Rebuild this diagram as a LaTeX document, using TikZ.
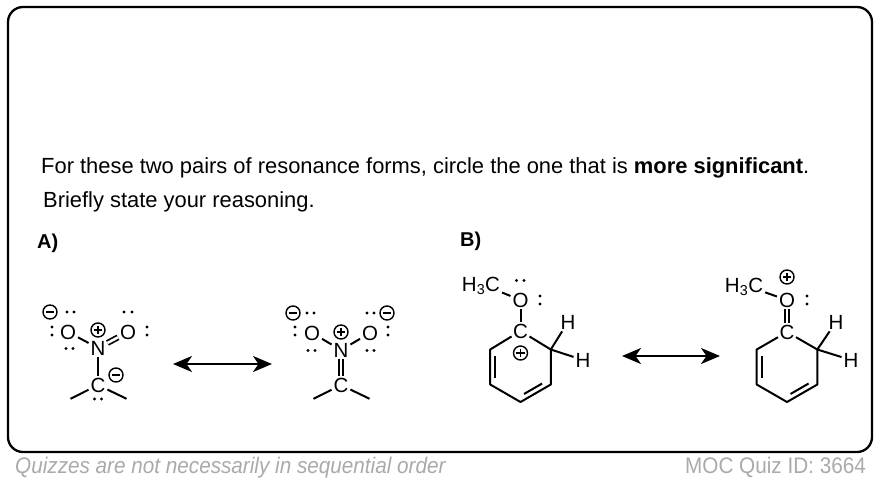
\documentclass[tikz,border=0pt]{standalone}
\usepackage{fontspec}
\setmainfont{Liberation Sans}
\usetikzlibrary{arrows.meta,calc}
\definecolor{footgray}{RGB}{170,170,170}
\newcommand{\chemfont}{\fontsize{20.5}{24}\selectfont}
\newcommand{\qfont}{\fontsize{21.9}{26}\selectfont}
\newcommand{\lblfont}{\fontsize{20}{24}\selectfont\bfseries}
\newcommand{\footfont}{\fontsize{22.5}{26}\selectfont\addfontfeatures{FakeStretch=0.92}}
\begin{document}
\begin{tikzpicture}[x=1pt,y=-1pt,
  frame/.style={draw=black, line width=2.3pt, rounded corners=15pt},
  qtext/.style={anchor=base west, inner sep=0pt, font=\qfont},
  atom/.style={font=\chemfont, inner sep=1.4pt, text height=14.7pt, text depth=0pt},
  bond/.style={line width=2pt, shorten <=0.5pt, shorten >=0.5pt},
  dbond/.style={line width=1.7pt, double, double distance=2.6pt, shorten <=0.5pt, shorten >=0.5pt},
  ring/.style={line width=2pt, line join=round},
  resarrow/.style={line width=2.3pt, {Stealth[length=19pt,width=16pt,inset=5.5pt]}-{Stealth[length=19pt,width=16pt,inset=5.5pt]}},
  foot/.style={inner sep=0pt, text=footgray},
  plusc/.pic={\draw[line width=1.4pt] (0,0) circle[radius=7];
              \draw[line width=1.5pt] (-4.2,0)--(4.2,0) (0,-4.2)--(0,4.2);},
  minusc/.pic={\draw[line width=1.4pt] (0,0) circle[radius=7];
               \draw[line width=1.5pt] (-4.2,0)--(4.2,0);},
]
\useasboundingbox (0,0) rectangle (880,482);
\fill[white] (0,0) rectangle (880,482);
\draw[frame] (8,7) rectangle (872,452);

% question text
\node[qtext] (q1) at (41,173) {For these two pairs of resonance forms, circle the one that is \textbf{more significant}.};
\node[qtext] (q2) at (43,207) {Briefly state your reasoning.};
\node[anchor=base west, inner sep=0pt, font=\lblfont] (la) at (37,248) {A)};
\node[anchor=base west, inner sep=0pt, font=\lblfont] (lb) at (460,246) {B)};

% footer
\node[foot, anchor=base west, font=\footfont\itshape] (f1) at (15,473) {Quizzes are not necessarily in sequential order};
\node[foot, anchor=base east, font=\footfont] (f2) at (866,473) {MOC Quiz ID: 3664};

% ---------- A1 ----------
\node[atom] (a1OL) at (68,332) {O};
\node[atom] (a1N) at (98,348) {N};
\node[atom] (a1OR) at (128,332) {O};
\node[atom] (a1C) at (98,385) {C};
\coordinate (a1mL) at (70,399);
\coordinate (a1mR) at (127,399);
\draw[bond] (a1OL) -- (a1N);
\draw[dbond] (a1N) -- (a1OR);
\draw[bond] (a1N) -- (a1C);
\draw[bond] (a1C) -- (a1mL);
\draw[bond] (a1C) -- (a1mR);
\pic at (98,330) {plusc};
\pic at (50,312) {minusc};
\pic at (116,375) {minusc};
\foreach \p in {(67,312),(74,312),(52,327),(52,335),(66,348.5),(73,348.5),(124,312),(132,312),(147,327),(147,335),(94.5,399),(101.5,399)}
  \fill \p circle[radius=1.7];

% ---------- A2 ----------
\node[atom] (a2OL) at (312,333) {O};
\node[atom] (a2N) at (341,350) {N};
\node[atom] (a2OR) at (370,333) {O};
\node[atom] (a2C) at (341,385) {C};
\coordinate (a2mL) at (313,399);
\coordinate (a2mR) at (370,399);
\draw[bond] (a2OL) -- (a2N);
\draw[bond] (a2N) -- (a2OR);
\draw[dbond] (a2N) -- (a2C);
\draw[bond] (a2C) -- (a2mL);
\draw[bond] (a2C) -- (a2mR);
\pic at (341,332) {plusc};
\pic at (293,313) {minusc};
\pic at (387,313) {minusc};
\foreach \p in {(307,313),(314,313),(295,327),(295,335),(308,350.5),(315,350.5),(367,313),(374,313),(388,327),(388,335),(367,350.5),(374,350.5)}
  \fill \p circle[radius=1.7];

% resonance arrows
\coordinate (arA1) at (173,364);
\coordinate (arA2) at (272,364);
\draw[resarrow] (arA1) -- (arA2);
\coordinate (arB1) at (622,356);
\coordinate (arB2) at (720,356);
\draw[resarrow] (arB1) -- (arB2);

% ---------- B1 ----------
\node[atom] (b1H3C) at (481,284) {H\textsubscript{3}C};
\node[atom] (b1O) at (520.5,300) {O};
\node[atom] (b1C) at (520.5,331) {C};
\node[atom] (b1Hu) at (568,322) {H};
\node[atom] (b1Hd) at (583,360) {H};
\coordinate (b1UR) at (550.8,349.5);
\coordinate (b1LR) at (550.8,384.5);
\coordinate (b1B)  at (520.5,402);
\coordinate (b1LL) at (490.2,384.5);
\coordinate (b1UL) at (490.2,349.5);
\coordinate (b1iLR) at (545.6,381.5);
\coordinate (b1iB)  at (520.5,396);
\coordinate (b1iLL) at (495.4,381.5);
\coordinate (b1iUL) at (495.4,352.5);
\draw[bond] (b1H3C) -- (b1O);
\draw[bond] (b1O) -- (b1C);
\draw[ring] (b1C) -- (b1UR) -- (b1LR) -- (b1B) -- (b1LL) -- (b1UL) -- (b1C);
\draw[ring] ($(b1iLR)!0.14!(b1iB)$) -- ($(b1iLR)!0.86!(b1iB)$);
\draw[ring] ($(b1iLL)!0.12!(b1iUL)$) -- ($(b1iLL)!0.88!(b1iUL)$);
\draw[bond] (b1UR) -- (b1Hu);
\draw[bond] (b1UR) -- (b1Hd);
\pic at (520.5,353) {plusc};
\foreach \p in {(516.5,280.5),(524,280.5),(540,296),(540,304)}
  \fill \p circle[radius=1.7];

% ---------- B2 ----------
\node[atom] (b2H3C) at (744,285) {H\textsubscript{3}C};
\node[atom] (b2O) at (787,300) {O};
\node[atom] (b2C) at (787,332) {C};
\node[atom] (b2Hu) at (836,322) {H};
\node[atom] (b2Hd) at (851,360) {H};
\coordinate (b2UR) at (817.3,349.5);
\coordinate (b2LR) at (817.3,384.5);
\coordinate (b2B)  at (787,402);
\coordinate (b2LL) at (756.7,384.5);
\coordinate (b2UL) at (756.7,349.5);
\coordinate (b2iLR) at (812.1,381.5);
\coordinate (b2iB)  at (787,396);
\coordinate (b2iLL) at (761.9,381.5);
\coordinate (b2iUL) at (761.9,352.5);
\draw[bond] (b2H3C) -- (b2O);
\draw[dbond] (b2O) -- (b2C);
\draw[ring] (b2C) -- (b2UR) -- (b2LR) -- (b2B) -- (b2LL) -- (b2UL) -- (b2C);
\draw[ring] ($(b2iLR)!0.14!(b2iB)$) -- ($(b2iLR)!0.86!(b2iB)$);
\draw[ring] ($(b2iLL)!0.12!(b2iUL)$) -- ($(b2iLL)!0.88!(b2iUL)$);
\draw[bond] (b2UR) -- (b2Hu);
\draw[bond] (b2UR) -- (b2Hd);
\pic at (787,277) {plusc};
\foreach \p in {(807,296),(807,304)}
  \fill \p circle[radius=1.7];
\end{tikzpicture}
\end{document}
